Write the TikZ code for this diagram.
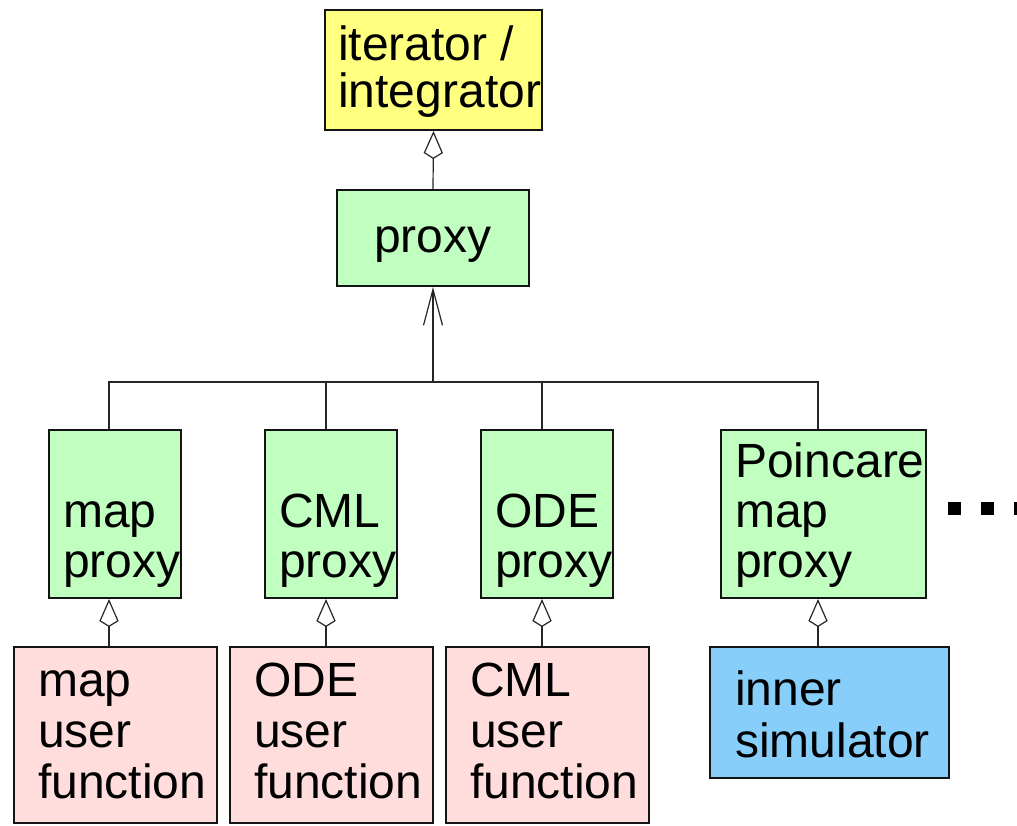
\documentclass[tikz,border=0pt]{standalone}
\usepackage{fontspec}
\setmainfont{Liberation Sans}
\usetikzlibrary{arrows.meta,fit}
\definecolor{yel}{RGB}{255,255,128}
\definecolor{grn}{RGB}{192,255,192}
\definecolor{pnk}{RGB}{255,221,221}
\definecolor{blu}{RGB}{135,206,250}
\definecolor{edge}{RGB}{20,20,20}
\begin{document}
\begin{tikzpicture}[x=0.75pt,y=-0.75pt,
  box/.style={draw=edge, line width=1.5pt, inner sep=0pt},
  lbl/.style={inner sep=0pt, anchor=base west, align=left},
  big/.style={font=\fontsize{36}{#1}\selectfont},
  conn/.style={draw=black!85, line width=0.9pt},
  dia/.style={conn, -{Kite[open, length=21pt, width=14.5pt, inset=4.5pt, line width=0.9pt]}},
  barb/.style={conn, -{Straight Barb[length=27pt, width=14.25pt, line width=0.9pt]}}]
\useasboundingbox (0,0) rectangle (1017,825);

% column positions of the connectors
\coordinate (c1) at (109,0);
\coordinate (c2) at (326,0);
\coordinate (c3) at (542,0);
\coordinate (c4) at (818,0);
\coordinate (bus) at (433,382);

% top level (text nodes are placed by the baseline of their last line)
\node[box, fill=yel, fit={(325,10) (542,130)}] (iter) {};
\node[lbl, big=35.25] (itert) at (338,107) {iterator /\\integrator};

\node[box, fill=grn, fit={(337,190) (529,286)}] (proxy) {};
\node[lbl, big=37.5] (proxyt) at (374,252) {proxy};

% proxy variants
\node[box, fill=grn, fit={(49,430) (181,598)}] (mapp) {};
\node[lbl, big=37.5] (mappt) at (63,577) {map\\proxy};

\node[box, fill=grn, fit={(265,430) (397,598)}] (cmlp) {};
\node[lbl, big=37.5] (cmlpt) at (279,577) {CML\\proxy};

\node[box, fill=grn, fit={(481,430) (613,598)}] (odep) {};
\node[lbl, big=37.5] (odept) at (495,577) {ODE\\proxy};

\node[box, fill=grn, fit={(721,430) (926,598)}] (poinp) {};
\node[lbl, big=37.5] (poinpt) at (735,577) {Poincare\\map\\proxy};

% user functions and inner simulator
\node[box, fill=pnk, fit={(14,647) (217,823)}] (mapu) {};
\node[lbl, big=38.25] (maput) at (38,798) {map\\user\\function};

\node[box, fill=pnk, fit={(230,647) (433,823)}] (odeu) {};
\node[lbl, big=38.25] (odeut) at (254,798) {ODE\\user\\function};

\node[box, fill=pnk, fit={(446,647) (649,823)}] (cmlu) {};
\node[lbl, big=38.25] (cmlut) at (470,798) {CML\\user\\function};

\node[box, fill=blu, fit={(710,647) (949,778)}] (inner) {};
\node[lbl, big=39] (innert) at (735,757) {inner\\simulator};

% connectors
\draw[dia] (proxy.north) -- (iter.south);
\draw[conn] (mapp.north -| c1) |- (bus) -| (poinp.north -| c4);
\draw[conn] (cmlp.north -| c2) |- (bus);
\draw[conn] (odep.north -| c3) |- (bus);
\draw[barb] (bus) -- (proxy.south);

\draw[dia] (mapu.north -| c1) -- (mapp.south -| c1);
\draw[dia] (odeu.north -| c2) -- (cmlp.south -| c2);
\draw[dia] (cmlu.north -| c3) -- (odep.south -| c3);
\draw[dia] (inner.north -| c4) -- (poinp.south -| c4);

% continuation dots
\coordinate (dotsa) at (948,508.5);
\coordinate (dotsb) at (1040,508.5);
\draw[line width=9.75pt, dash pattern=on 9.75pt off 15pt] (dotsa) -- (dotsb);
\end{tikzpicture}
\end{document}
